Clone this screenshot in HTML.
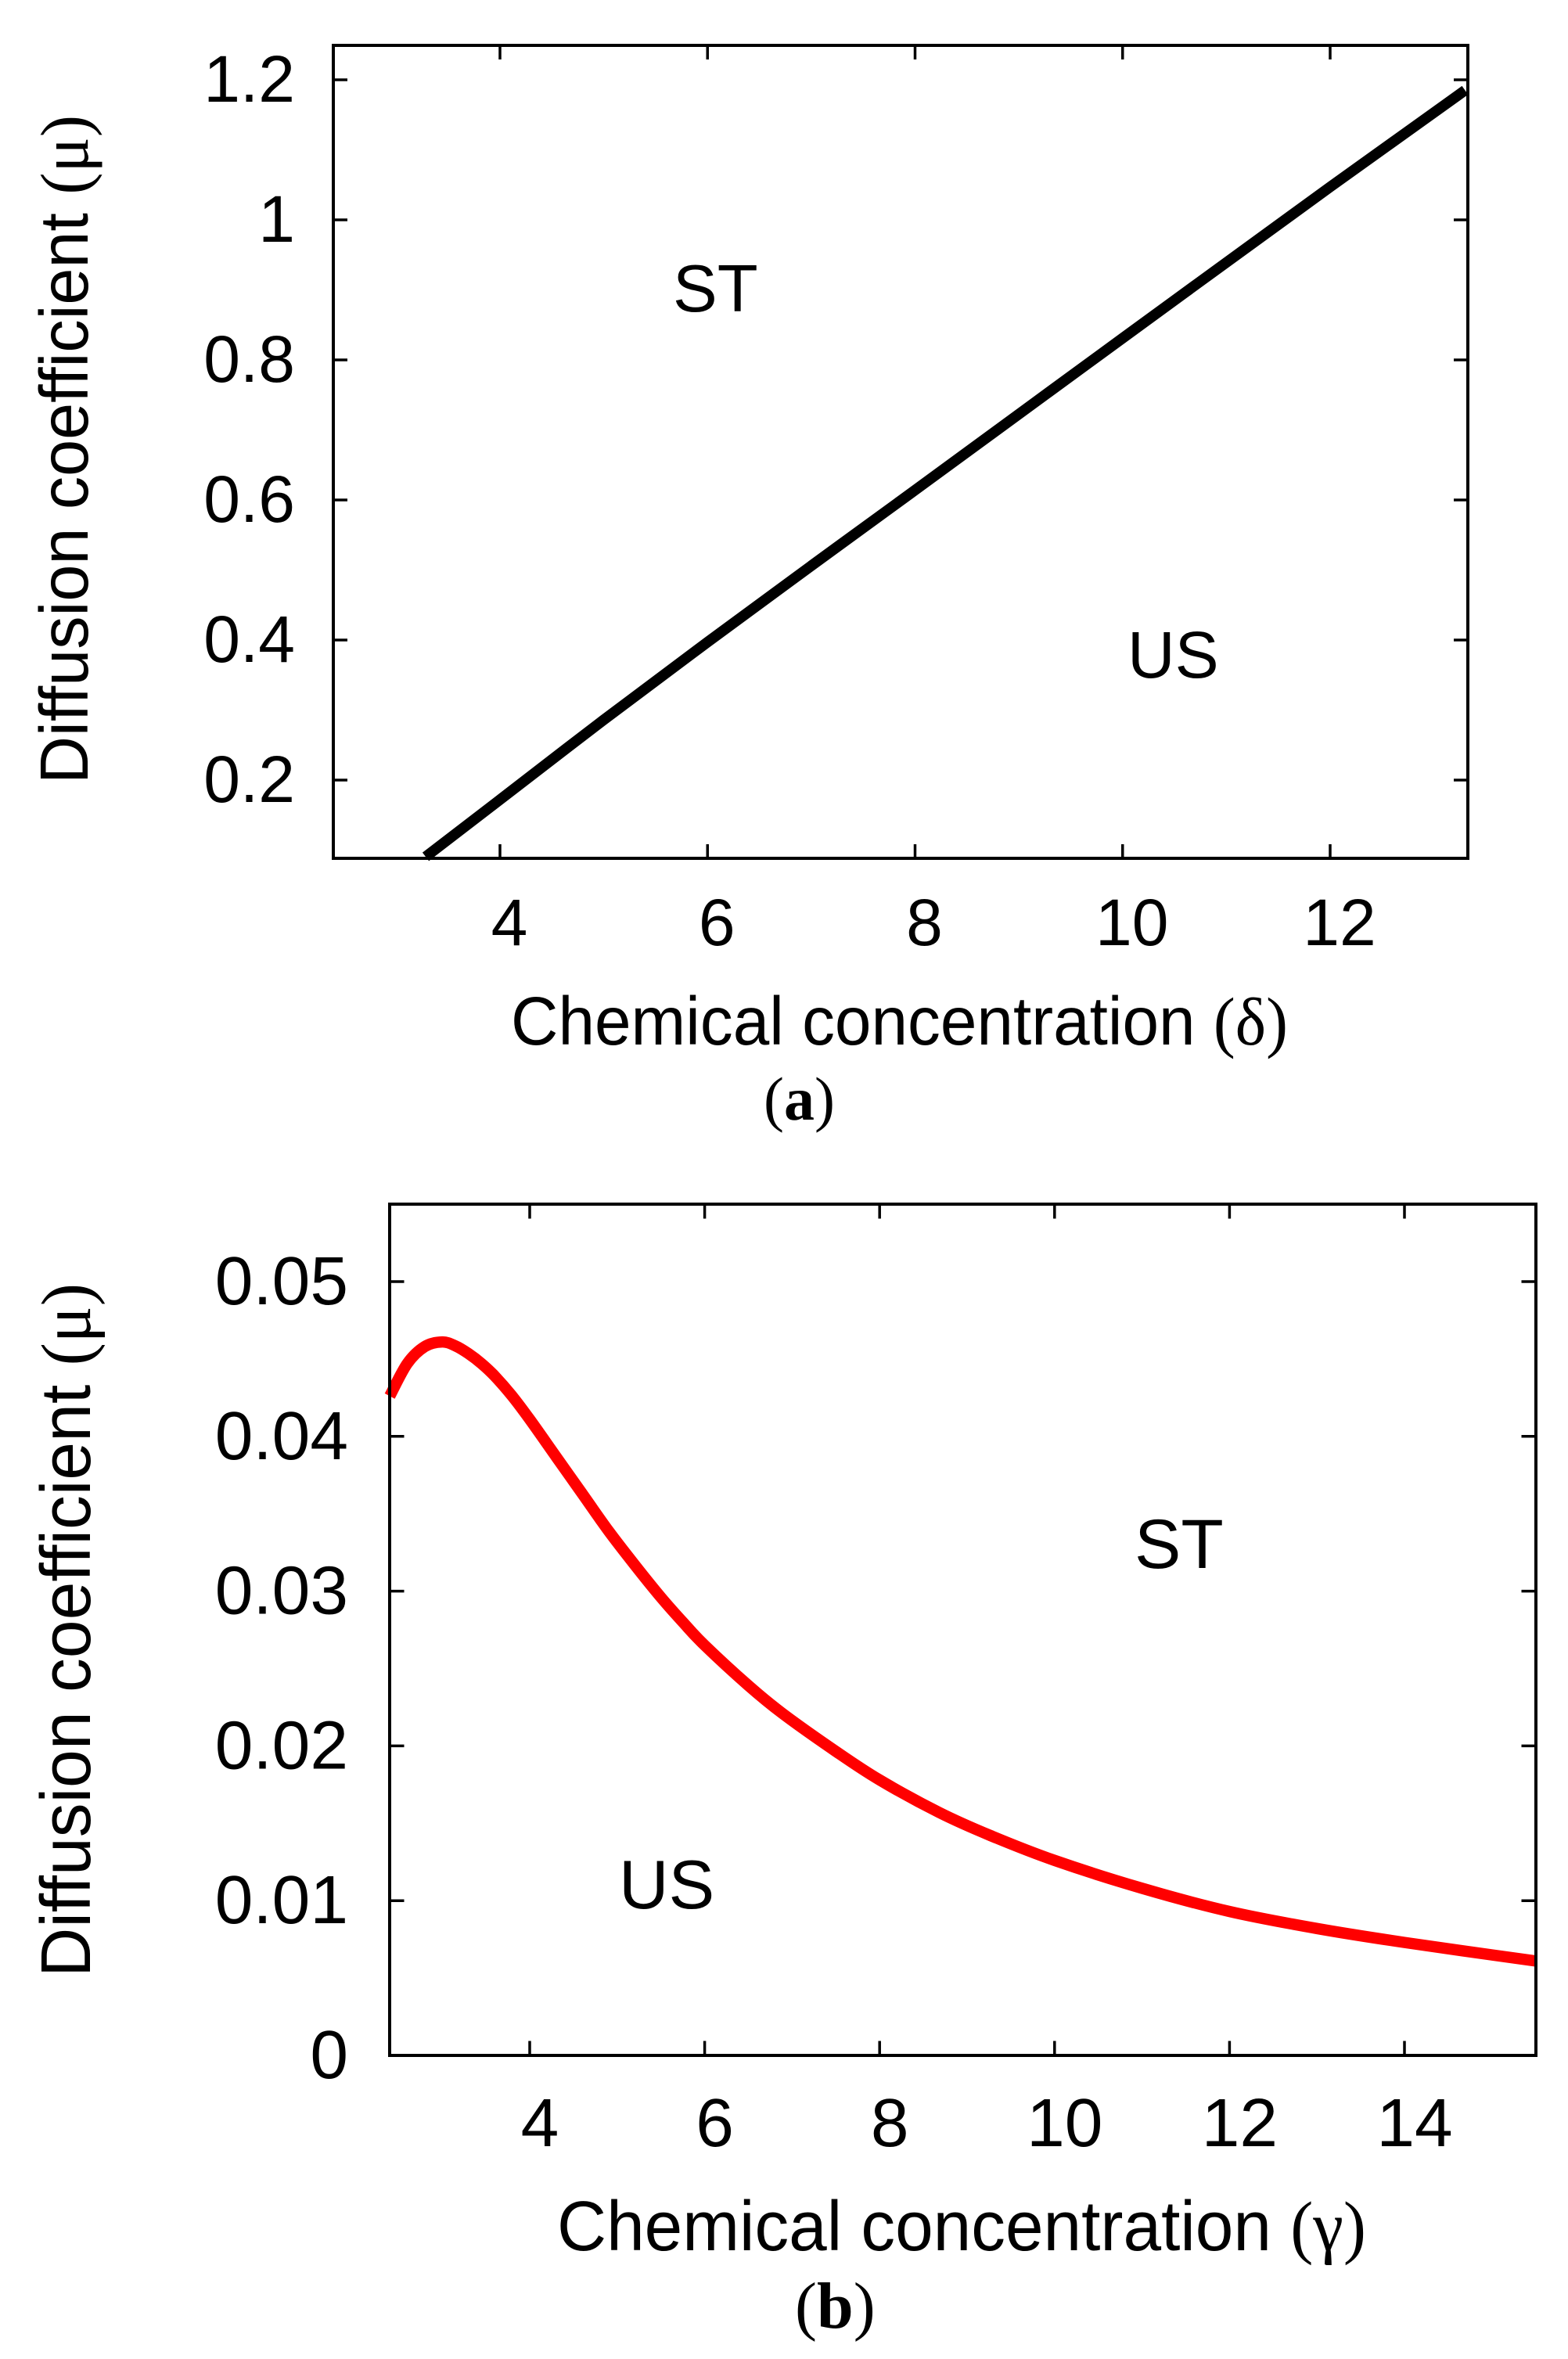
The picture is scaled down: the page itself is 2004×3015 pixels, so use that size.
<!DOCTYPE html>
<html lang="en">
<head>
<meta charset="utf-8">
<title>Diffusion coefficient stability diagrams</title>
<style>
html,body{margin:0;padding:0;background:#fff;}
body{width:2004px;height:3015px;overflow:hidden;}
svg{display:block;}
text{font-family:"Liberation Sans",sans-serif;fill:#000;}
.gr{font-family:"Liberation Serif",serif;}
</style>
</head>
<body>
<svg id="figure" xmlns="http://www.w3.org/2000/svg" width="2004" height="3015" viewBox="0 0 2004 3015">
  <rect x="0" y="0" width="2004" height="3015" fill="#fff"/>
  <g id="panel-a">
    <text transform="translate(112,1002) rotate(-90)" font-size="87" textLength="855" lengthAdjust="spacingAndGlyphs">Diffusion coefficient <tspan class="gr">(μ)</tspan></text>
    <text x="653" y="1335" font-size="87" textLength="993" lengthAdjust="spacingAndGlyphs">Chemical concentration <tspan class="gr">(δ)</tspan></text>
    <text x="860" y="398" font-size="85">ST</text>
    <text x="1441" y="866" font-size="84">US</text>
    <text class="gr" x="976" y="1431" font-size="78" style="font-family:'Liberation Serif',serif">(<tspan font-weight="bold">a</tspan>)</text>
  </g>
  <g id="panel-b">
    <text transform="translate(115,2527) rotate(-90)" font-size="90" textLength="887" lengthAdjust="spacingAndGlyphs">Diffusion coefficient <tspan class="gr">(μ)</tspan></text>
    <text x="712" y="2876" font-size="90" textLength="1034" lengthAdjust="spacingAndGlyphs">Chemical concentration <tspan class="gr">(γ)</tspan></text>
    <text x="1450" y="2004" font-size="89">ST</text>
    <text x="791" y="2439" font-size="88">US</text>
    <text class="gr" x="1016" y="2975" font-size="84" style="font-family:'Liberation Serif',serif">(<tspan font-weight="bold">b</tspan>)</text>
  </g>
</svg>
<script>
// Panel (a) data
const aXTicks = [4, 6, 8, 10, 12];
const aYTicks = [0.2, 0.4, 0.6, 0.8, 1, 1.2];
const aYTickLabels = ["0.2", "0.4", "0.6", "0.8", "1", "1.2"];
const aDelta = [3.284, 4, 5, 6, 7, 8, 10, 12, 13.3];
const aMu = [0.0905, 0.172, 0.286, 0.397, 0.506, 0.614, 0.831, 1.047, 1.185];

// Panel (b) data
const bXTicks = [4, 6, 8, 10, 12, 14];
const bYTicks = [0, 0.01, 0.02, 0.03, 0.04, 0.05];
const bYTickLabels = ["0", "0.01", "0.02", "0.03", "0.04", "0.05"];
const bGamma = [2.4, 2.6, 2.8, 3, 3.15, 3.3, 3.45, 3.6, 3.8, 4, 4.3, 4.6, 4.9, 5.2, 5.5, 5.75, 6, 6.5, 6.889, 7.486, 8, 8.68, 9.27, 10, 11, 12, 13, 14, 15.5];
const bMu = [0.0426, 0.0447, 0.0458, 0.0461, 0.04585, 0.04535, 0.0447, 0.0439, 0.0426, 0.0411, 0.0387, 0.0363, 0.0339, 0.0317, 0.0296, 0.028, 0.0265, 0.0239, 0.0221, 0.0197, 0.0178, 0.0157, 0.0142, 0.0126, 0.0108, 0.0093, 0.0082, 0.0073, 0.0061];

const NS = 'http://www.w3.org/2000/svg';

function el(parent, tag, attrs) {
  const node = document.createElementNS(NS, tag);
  Object.keys(attrs).forEach(function (k) { node.setAttribute(k, attrs[k]); });
  parent.appendChild(node);
  return node;
}

function linear(v0, p0, v1, p1) {
  return function (v) { return p0 + (v - v0) * (p1 - p0) / (v1 - v0); };
}

function smoothPath(xs, ys, sx, sy) {
  const pts = xs.map(function (x, i) { return [sx(x), sy(ys[i])]; });
  let d = 'M' + pts[0][0].toFixed(2) + ' ' + pts[0][1].toFixed(2);
  for (let i = 0; i < pts.length - 1; i++) {
    const p0 = pts[Math.max(i - 1, 0)];
    const p1 = pts[i];
    const p2 = pts[i + 1];
    const p3 = pts[Math.min(i + 2, pts.length - 1)];
    const c1x = p1[0] + (p2[0] - p0[0]) / 6;
    const c1y = p1[1] + (p2[1] - p0[1]) / 6;
    const c2x = p2[0] - (p3[0] - p1[0]) / 6;
    const c2y = p2[1] - (p3[1] - p1[1]) / 6;
    d += 'C' + c1x.toFixed(2) + ' ' + c1y.toFixed(2) + ' ' + c2x.toFixed(2) + ' ' + c2y.toFixed(2) + ' ' + p2[0].toFixed(2) + ' ' + p2[1].toFixed(2);
  }
  return d;
}

function drawPanel(cfg) {
  const g = document.getElementById(cfg.id);
  const sx = cfg.sx;
  const sy = cfg.sy;
  const box = cfg.box;

  const curve = el(g, 'path', { d: smoothPath(cfg.xs, cfg.ys, sx, sy), fill: 'none', stroke: cfg.color, 'stroke-width': cfg.lineWidth, 'stroke-linejoin': 'round', 'stroke-linecap': 'butt' });
  
  

  const frame = el(g, 'rect', { x: box.l, y: box.t, width: box.r - box.l, height: box.b - box.t, fill: 'none', stroke: '#000', 'stroke-width': 4 });
  
  

  cfg.xTicks.forEach(function (v) {
    const x = sx(v);
    [[box.b, box.b - cfg.tick], [box.t, box.t + cfg.tick]].forEach(function (pair) {
      const t = el(g, 'line', { x1: x, x2: x, y1: pair[0], y2: pair[1], stroke: '#000', 'stroke-width': 3.5 });
      
      
    });
    const label = el(g, 'text', { x: x + cfg.xLabelDx, y: cfg.xLabelY, 'font-size': cfg.tickFont, 'text-anchor': 'middle' });
    label.textContent = String(v);
    
    
  });

  cfg.yTicks.forEach(function (v, i) {
    const y = sy(v);
    if (v !== cfg.yNoTick) {
      [[box.l, box.l + cfg.tick], [box.r, box.r - cfg.tick]].forEach(function (pair) {
        const t = el(g, 'line', { x1: pair[0], x2: pair[1], y1: y, y2: y, stroke: '#000', 'stroke-width': 3.5 });
        
        
      });
    }
    const label = el(g, 'text', { x: cfg.yLabelX, y: y + cfg.yLabelDy, 'font-size': cfg.tickFont, 'text-anchor': 'end' });
    label.textContent = cfg.yLabels[i];
    
    
  });
}

drawPanel({
  id: 'panel-a',
  box: { l: 426, r: 1876, t: 58, b: 1097 },
  sx: linear(4, 639, 12, 1700),
  sy: linear(0.2, 997, 1.2, 102),
  xs: aDelta,
  ys: aMu,
  xTicks: aXTicks,
  yTicks: aYTicks,
  yLabels: aYTickLabels,
  color: '#000',
  lineWidth: 13.5,
  tick: 18,
  tickFont: 84,
  xLabelDx: 12,
  xLabelY: 1208,
  yLabelX: 377,
  yLabelDy: 28,
  yNoTick: null
});

drawPanel({
  id: 'panel-b',
  box: { l: 498, r: 1963, t: 1539, b: 2627 },
  sx: linear(4, 677, 14, 1795),
  sy: linear(0, 2627, 0.05, 1638),
  xs: bGamma,
  ys: bMu,
  xTicks: bXTicks,
  yTicks: bYTicks,
  yLabels: bYTickLabels,
  color: '#ff0000',
  lineWidth: 14.5,
  tick: 18.5,
  tickFont: 87.5,
  xLabelDx: 13,
  xLabelY: 2743,
  yLabelX: 445,
  yLabelDy: 29,
  yNoTick: 0
});
</script>
</body>
</html>
